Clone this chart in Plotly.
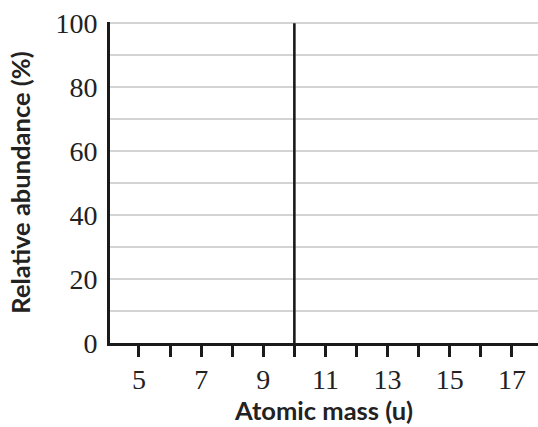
import plotly.graph_objects as go

masses = [10]
abundances = [100]
x_tick_vals = [5, 7, 9, 11, 13, 15, 17]
x_tick_text = ["5", "7", "9", "11", "13", "15", "17"]
y_tick_vals = [0, 20, 40, 60, 80, 100]
y_tick_text = ["0", "20", "40", "60", "80", "100"]

xs, ys = [], []
for m, a in zip(masses, abundances):
    xs += [m, m, None]
    ys += [0, a, None]

fig = go.Figure()
fig.add_trace(go.Scatter(x=xs, y=ys, mode="lines",
                         line=dict(color="#1a1a1a", width=2.6),
                         showlegend=False, hoverinfo="skip"))

tick_font = dict(family="Liberation Serif", size=28, color="#222222")
title_font = dict(family="Lato", size=25.5, color="#222222", weight="bold")

fig.update_layout(
    width=538, height=427,
    margin=dict(l=110, r=0, t=22, b=84),
    paper_bgcolor="white", plot_bgcolor="white",
    xaxis=dict(
        range=[4.067, 17.84], tickmode="array", tickvals=x_tick_vals, ticktext=x_tick_text,
        ticks="outside", ticklen=11, tickwidth=3, tickcolor="#1a1a1a",
        showline=True, linecolor="#1a1a1a", linewidth=3, automargin=False,
        showgrid=False, zeroline=False, tickfont=tick_font, ticklabelstandoff=-2,
        minor=dict(dtick=1, tick0=0, ticks="outside", ticklen=11, tickwidth=3,
                   tickcolor="#1a1a1a", showgrid=False),
        title=dict(text="Atomic mass (u)", font=title_font, standoff=8),
    ),
    yaxis=dict(
        range=[0, 100.4], tickmode="array", tickvals=y_tick_vals, ticktext=y_tick_text,
        ticks="", showline=True, linecolor="#1a1a1a", linewidth=3, automargin=False,
        showgrid=True, gridcolor="#d4d4d4", gridwidth=1.5, zeroline=False,
        tickfont=tick_font, ticklabelstandoff=4,
        minor=dict(dtick=10, tick0=0, showgrid=True, gridcolor="#d4d4d4", gridwidth=1.5),
        title=dict(text="Relative abundance (%)", font=title_font, standoff=18),
    ),
)

fig.write_html("out.html", config={"displayModeBar": False},
               post_script="document.body.style.margin='0';")
